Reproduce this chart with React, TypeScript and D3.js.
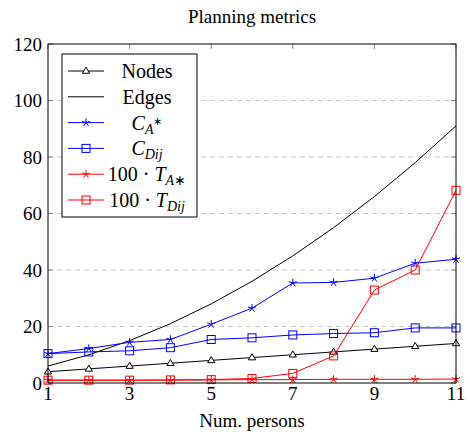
import * as d3 from 'd3';
import React from 'react';

// number of persons on the x axis
const persons = [1, 2, 3, 4, 5, 6, 7, 8, 9, 10, 11];
const nodes = [4, 5, 6, 7, 8, 9, 10, 11, 12, 13, 14];
const edges = [6, 10, 15, 21, 28, 36, 45, 55, 66, 78, 91];
const costAStar = [10.4, 12.2, 14.4, 15.4, 20.8, 26.5, 35.4, 35.6, 37.1, 42.4, 43.8];
const costDij = [10.4, 11.0, 11.4, 12.5, 15.4, 16.0, 17.0, 17.5, 17.8, 19.5, 19.5];
const timeAStar = [1.0, 1.0, 1.0, 1.0, 1.1, 1.2, 1.2, 1.3, 1.3, 1.3, 1.4];
const timeDij = [1.0, 1.0, 1.0, 1.1, 1.2, 1.6, 3.4, 9.6, 32.9, 40.0, 68.2];

const xTicks = [1, 3, 5, 7, 9, 11];
const yTicks = [0, 20, 40, 60, 80, 100, 120];

type Mark = 'triangle' | 'star' | 'square' | 'none';

const FONT = '"Liberation Serif", "Times New Roman", serif';

function Marker({ type, x, y, color }: { type: Mark; x: number; y: number; color: string }) {
  if (type === 'triangle') {
    const r = 3.8;
    const pts = [
      [x, y - r],
      [x + r * 0.95, y + r * 0.6],
      [x - r * 0.95, y + r * 0.6],
    ];
    return <polygon points={pts.map((p) => p.join(',')).join(' ')} fill="white" stroke={color} strokeWidth={1} />;
  }
  if (type === 'square') {
    const s = 4;
    return <rect x={x - s} y={y - s} width={2 * s} height={2 * s} fill="none" stroke={color} strokeWidth={1} />;
  }
  if (type === 'star') {
    const r = 4.2;
    const d = d3.range(5).map((i) => {
      const a = -Math.PI / 2 + (i * 2 * Math.PI) / 5;
      return `M${x},${y}L${x + r * Math.cos(a)},${y + r * Math.sin(a)}`;
    });
    return <path d={d.join('')} stroke={color} strokeWidth={1} fill="none" />;
  }
  return null;
}

const series: { name: string; values: number[]; color: string; mark: Mark }[] = [
  { name: 'nodes', values: nodes, color: '#000', mark: 'triangle' },
  { name: 'edges', values: edges, color: '#000', mark: 'none' },
  { name: 'cA', values: costAStar, color: '#0000ff', mark: 'star' },
  { name: 'cD', values: costDij, color: '#0000ff', mark: 'square' },
  { name: 'tA', values: timeAStar, color: '#ff0000', mark: 'star' },
  { name: 'tD', values: timeDij, color: '#ff0000', mark: 'square' },
];

function LegendLabel({ i, x, y }: { i: number; x: number; y: number }) {
  const common = { x, y, textAnchor: 'middle' as const, fontSize: 20, fontFamily: FONT };
  const sub = 14;
  switch (i) {
    case 0:
      return <text {...common}>Nodes</text>;
    case 1:
      return <text {...common}>Edges</text>;
    case 2:
      return (
        <text {...common}>
          <tspan fontStyle="italic">C</tspan>
          <tspan fontStyle="italic" fontSize={sub} dy={4}>A</tspan>
          <tspan fontSize={11} dy={-9}>∗</tspan>
        </text>
      );
    case 3:
      return (
        <text {...common}>
          <tspan fontStyle="italic">C</tspan>
          <tspan fontStyle="italic" fontSize={sub} dy={4}>Dij</tspan>
        </text>
      );
    case 4:
      return (
        <text {...common}>
          100 · <tspan fontStyle="italic">T</tspan>
          <tspan fontStyle="italic" fontSize={sub} dy={4}>A</tspan>
          <tspan fontSize={sub} dy={0}>∗</tspan>
        </text>
      );
    default:
      return (
        <text {...common}>
          100 · <tspan fontStyle="italic">T</tspan>
          <tspan fontStyle="italic" fontSize={sub} dy={4}>Dij</tspan>
        </text>
      );
  }
}

export default function App() {
  const width = 470;
  const height = 440;
  const margin = { top: 44, right: 14, bottom: 57, left: 48 };
  const x = d3.scaleLinear().domain([1, 11]).range([margin.left, width - margin.right]);
  const y = d3.scaleLinear().domain([0, 120]).range([height - margin.bottom, margin.top]);
  const line = d3
    .line<number>()
    .x((_, i) => x(persons[i]))
    .y((d) => y(d));

  const legend = { x: 62, y: 54, w: 135, h: 163, row: 25.8 };

  return (
    <svg width={width} height={height} style={{ position: 'absolute', left: 0, top: 0 }}>
      <rect width={width} height={height} fill="white" />
      <text x={(x(1) + x(11)) / 2} y={23} textAnchor="middle" fontSize={19} fontFamily={FONT}>
        Planning metrics
      </text>

      {/* grid */}
      {yTicks.slice(1, -1).map((t) => (
        <line key={'g' + t} x1={x(1)} x2={x(11)} y1={y(t)} y2={y(t)} stroke="#c8c8c8" strokeDasharray="5,4" />
      ))}

      {/* ticks */}
      {yTicks.map((t) => (
        <g key={'yt' + t}>
          <line x1={x(1)} x2={x(1) + 5} y1={y(t)} y2={y(t)} stroke="#888" />
          <line x1={x(11)} x2={x(11) - 5} y1={y(t)} y2={y(t)} stroke="#888" />
          <text x={x(1) - 6} y={y(t) + 6.5} textAnchor="end" fontSize={19} fontFamily={FONT}>
            {t}
          </text>
        </g>
      ))}
      {xTicks.map((t) => (
        <g key={'xt' + t}>
          <line x1={x(t)} x2={x(t)} y1={y(0)} y2={y(0) - 5} stroke="#888" />
          <line x1={x(t)} x2={x(t)} y1={y(120)} y2={y(120) + 5} stroke="#888" />
          <text x={x(t)} y={400} textAnchor="middle" fontSize={19} fontFamily={FONT}>
            {t}
          </text>
        </g>
      ))}

      {/* series */}
      {series.map((s) => (
        <g key={s.name}>
          <path d={line(s.values) ?? ''} fill="none" stroke={s.color} strokeWidth={1} />
          {s.values.map((v, i) => (
            <Marker key={i} type={s.mark} x={x(persons[i])} y={y(v)} color={s.color} />
          ))}
        </g>
      ))}

      <rect
        x={x(1)}
        y={y(120)}
        width={x(11) - x(1)}
        height={y(0) - y(120)}
        fill="none"
        stroke="black"
        strokeWidth={1}
      />

      {/* legend */}
      <rect x={legend.x} y={legend.y} width={legend.w} height={legend.h} fill="white" stroke="black" strokeWidth={1} />
      {series.map((s, i) => {
        const cy = legend.y + 17 + i * legend.row;
        return (
          <g key={'l' + s.name}>
            <line x1={legend.x + 6} x2={legend.x + 42} y1={cy} y2={cy} stroke={s.color} />
            <Marker type={s.mark} x={legend.x + 24} y={cy} color={s.color} />
            <LegendLabel i={i} x={legend.x + 85} y={cy + 7} />
          </g>
        );
      })}

      <text x={(x(1) + x(11)) / 2} y={427} textAnchor="middle" fontSize={19} fontFamily={FONT}>
        Num. persons
      </text>
    </svg>
  );
}
